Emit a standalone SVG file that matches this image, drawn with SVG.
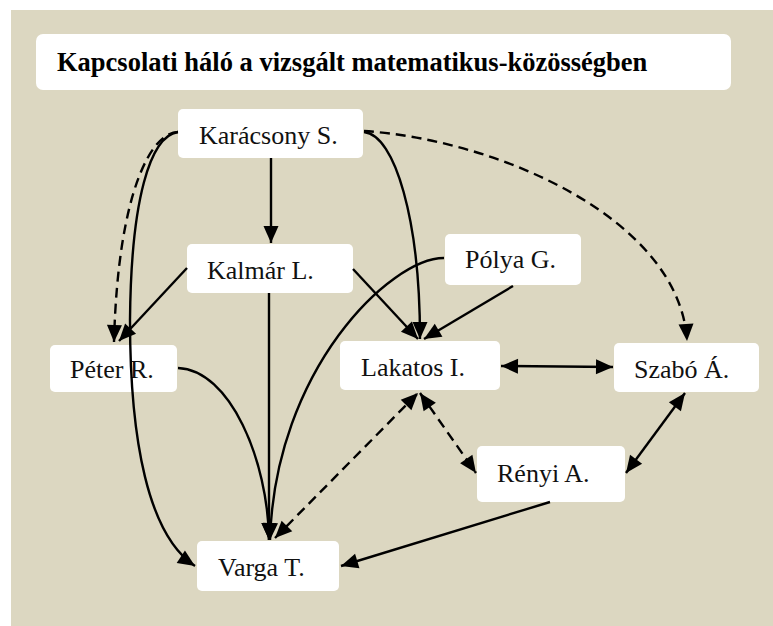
<svg xmlns="http://www.w3.org/2000/svg" width="773" height="626" viewBox="0 0 773 626">
  <style>
    .panel { fill: #dcd7c1; }
    .box { fill: #ffffff; }
    .label { font-family: "Liberation Serif", "Times New Roman", serif; font-size: 26px; fill: #111111; }
    .title { font-family: "Liberation Serif", "Times New Roman", serif; font-size: 26.5px; font-weight: bold; fill: #000000; }
    .edge { fill: none; stroke: #000000; stroke-width: 2.4; }
    .dashed { stroke-dasharray: 10 6; }
  </style>
  <defs>
    <marker id="arrow" markerUnits="userSpaceOnUse" markerWidth="18" markerHeight="16" refX="17" refY="7.5" orient="auto-start-reverse" overflow="visible">
      <path d="M0,0 L17,7.5 L0,15 Z" fill="#000000"/>
    </marker>
  </defs>

  <rect class="panel" x="11" y="10" width="762" height="616"/>

  <g id="title">
    <rect class="box" x="36" y="34" width="695" height="56" rx="7"/>
    <text class="title" x="57" y="71">Kapcsolati háló a vizsgált matematikus-közösségben</text>
  </g>

  <g id="karacsony">
    <rect class="box" x="178" y="109" width="185" height="49" rx="5"/>
    <text class="label" x="199" y="144">Karácsony S.</text>
  </g>
  <g id="kalmar">
    <rect class="box" x="187" y="244" width="166" height="49" rx="5"/>
    <text class="label" x="207" y="279">Kalmár L.</text>
  </g>
  <g id="polya">
    <rect class="box" x="445" y="234" width="136" height="51" rx="5"/>
    <text class="label" x="465" y="268">Pólya G.</text>
  </g>
  <g id="peter">
    <rect class="box" x="50" y="345" width="127" height="47" rx="5"/>
    <text class="label" x="70" y="378">Péter R.</text>
  </g>
  <g id="lakatos">
    <rect class="box" x="340" y="341" width="160" height="49" rx="5"/>
    <text class="label" x="361" y="376">Lakatos I.</text>
  </g>
  <g id="szabo">
    <rect class="box" x="614" y="343" width="145" height="49" rx="5"/>
    <text class="label" x="634" y="378">Szabó Á.</text>
  </g>
  <g id="renyi">
    <rect class="box" x="477" y="446" width="148" height="56" rx="5"/>
    <text class="label" x="497" y="482">Rényi A.</text>
  </g>
  <g id="varga">
    <rect class="box" x="197" y="541" width="142" height="50" rx="5"/>
    <text class="label" x="218" y="576">Varga T.</text>
  </g>

  <g id="connectors">
    <!-- from Karácsony S. -->
    <path class="edge" d="M271,158 L271,243" marker-end="url(#arrow)"/>
    <path class="edge dashed" d="M178,132 C152,132 118,190 114,342" marker-end="url(#arrow)"/>
    <path class="edge" d="M178,132 C150,136 131,200 130,320 C130,440 148,535 195,566" marker-end="url(#arrow)"/>
    <path class="edge" d="M364,132 C395,135 420,220 420,339" marker-end="url(#arrow)"/>
    <path class="edge dashed" d="M364,131 C500,140 680,220 687,341" marker-end="url(#arrow)"/>
    <!-- from Kalmár L. -->
    <path class="edge" d="M187,268 L119,341" marker-end="url(#arrow)"/>
    <path class="edge" d="M353,269 L418,339" marker-end="url(#arrow)"/>
    <path class="edge" d="M269,293 L269,540" marker-end="url(#arrow)"/>
    <!-- from Pólya G. -->
    <path class="edge" d="M513,286 L424,339" marker-end="url(#arrow)"/>
    <path class="edge" d="M444,258 C390,258 275,370 270,540" marker-end="url(#arrow)"/>
    <!-- from Péter R. -->
    <path class="edge" d="M178,368 C230,370 268,460 269,540" marker-end="url(#arrow)"/>
    <!-- two-way links -->
    <path class="edge dashed" d="M275,538 L418,393" marker-start="url(#arrow)" marker-end="url(#arrow)"/>
    <path class="edge dashed" d="M420,393 L476,473" marker-start="url(#arrow)" marker-end="url(#arrow)"/>
    <path class="edge" d="M501,366 L613,367" marker-start="url(#arrow)" marker-end="url(#arrow)"/>
    <path class="edge" d="M685,393 L626,473" marker-start="url(#arrow)" marker-end="url(#arrow)"/>
    <!-- from Rényi A. -->
    <path class="edge" d="M550,502 L341,566" marker-end="url(#arrow)"/>
  </g>
</svg>
